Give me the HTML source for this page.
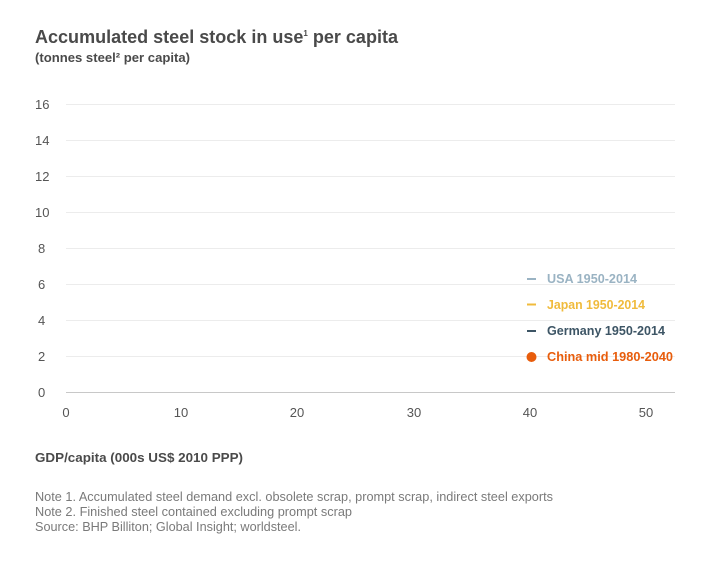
<!DOCTYPE html>
<html><head><style>
body{margin:0;background:#fff;width:710px;height:565px;overflow:hidden;font-family:"Liberation Sans",sans-serif;}
</style></head><body>
<svg width="710" height="565" xmlns="http://www.w3.org/2000/svg" font-family="Liberation Sans, sans-serif">
<text x="35" y="43" font-size="18" font-weight="bold" fill="#4a4a4a" textLength="363" lengthAdjust="spacingAndGlyphs">Accumulated steel stock in use<tspan font-size="8" dy="-7">1</tspan><tspan dy="7"> per capita</tspan></text>
<text x="35" y="62" font-size="12.5" font-weight="bold" fill="#4a4a4a" textLength="155" lengthAdjust="spacingAndGlyphs">(tonnes steel² per capita)</text>
<g stroke="#ececec" stroke-width="1">
<line x1="66" x2="675" y1="104.5" y2="104.5"/>
<line x1="66" x2="675" y1="140.5" y2="140.5"/>
<line x1="66" x2="675" y1="176.5" y2="176.5"/>
<line x1="66" x2="675" y1="212.5" y2="212.5"/>
<line x1="66" x2="675" y1="248.5" y2="248.5"/>
<line x1="66" x2="675" y1="284.5" y2="284.5"/>
<line x1="66" x2="675" y1="320.5" y2="320.5"/>
<line x1="66" x2="675" y1="356.5" y2="356.5"/>
</g>
<line x1="66" x2="675" y1="392.5" y2="392.5" stroke="#c8c8c8"/>
<g font-size="13" fill="#555">
<text x="35" y="109">16</text><text x="35" y="145">14</text><text x="35" y="181">12</text>
<text x="35" y="217">10</text><text x="38" y="253">8</text><text x="38" y="289">6</text>
<text x="38" y="325">4</text><text x="38" y="361">2</text><text x="38" y="397">0</text>
</g>
<g font-size="13" fill="#555" text-anchor="middle">
<text x="66" y="417">0</text><text x="181" y="417">10</text><text x="297" y="417">20</text>
<text x="414" y="417">30</text><text x="530" y="417">40</text><text x="646" y="417">50</text>
</g>
<g font-size="12.5" font-weight="bold">
<line x1="527" x2="536" y1="279" y2="279" stroke="#9ab3c3" stroke-width="2"/>
<text x="547" y="283" fill="#9ab3c3" textLength="90" lengthAdjust="spacingAndGlyphs">USA 1950-2014</text>
<line x1="527" x2="536" y1="304.5" y2="304.5" stroke="#f0bb3c" stroke-width="2"/>
<text x="547" y="309" fill="#f0bb3c" textLength="98" lengthAdjust="spacingAndGlyphs">Japan 1950-2014</text>
<line x1="527" x2="536" y1="331" y2="331" stroke="#3d5565" stroke-width="2"/>
<text x="547" y="335" fill="#3d5565" textLength="118" lengthAdjust="spacingAndGlyphs">Germany 1950-2014</text>
<circle cx="531.5" cy="357" r="5" fill="#e85d0c"/>
<text x="547" y="361" fill="#e85d0c" textLength="126" lengthAdjust="spacingAndGlyphs">China mid 1980-2040</text>
</g>
<text x="35" y="462" font-size="13" font-weight="bold" fill="#4a4a4a" textLength="208" lengthAdjust="spacingAndGlyphs">GDP/capita (000s US$ 2010 PPP)</text>
<g font-size="12.5" fill="#7a7a7a">
<text x="35" y="501" textLength="518" lengthAdjust="spacingAndGlyphs">Note 1. Accumulated steel demand excl. obsolete scrap, prompt scrap, indirect steel exports</text>
<text x="35" y="516" textLength="317" lengthAdjust="spacingAndGlyphs">Note 2. Finished steel contained excluding prompt scrap</text>
<text x="35" y="531" textLength="266" lengthAdjust="spacingAndGlyphs">Source: BHP Billiton; Global Insight; worldsteel.</text>
</g>
</svg>
</body></html>
